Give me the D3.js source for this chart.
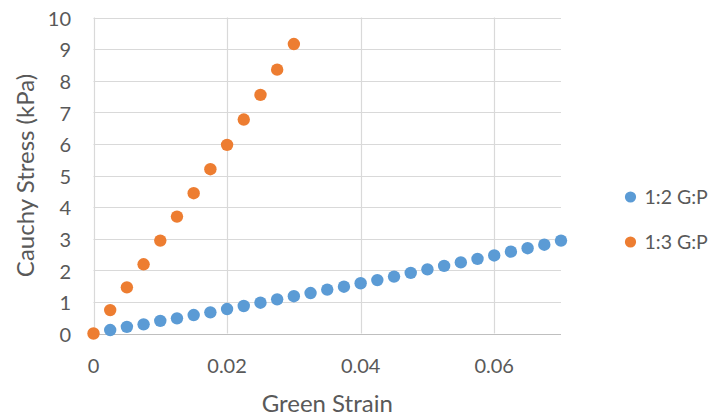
<!DOCTYPE html>
<html>
<head>
<meta charset="utf-8">
<script src="https://cdn.jsdelivr.net/npm/d3@7"></script>
<style>
  html, body { margin: 0; padding: 0; background: #fff; }
  svg { display: block; font-family: Lato, "Open Sans", sans-serif; }
</style>
</head>
<body>
<svg id="chart" width="720" height="420"></svg>
<script>
const strain12 = [0.0025,0.005,0.0075,0.01,0.0125,0.015,0.0175,0.02,0.0225,0.025,0.0275,0.03,0.0325,0.035,0.0375,0.04,0.0425,0.045,0.0475,0.05,0.0525,0.055,0.0575,0.06,0.0625,0.065,0.0675,0.07];
const stress12 = [0.11,0.21,0.29,0.40,0.48,0.585,0.67,0.775,0.87,0.975,1.08,1.18,1.28,1.39,1.48,1.59,1.69,1.80,1.92,2.03,2.14,2.25,2.36,2.47,2.59,2.70,2.81,2.94];
const strain13 = [0,0.0025,0.005,0.0075,0.01,0.0125,0.015,0.0175,0.02,0.0225,0.025,0.0275,0.03];
const stress13 = [0,0.74,1.46,2.19,2.94,3.70,4.44,5.20,5.97,6.77,7.55,8.35,9.16];
const xTicks = [0,0.02,0.04,0.06];
const xTickLabels = ["0","0.02","0.04","0.06"];
const yTicks = [0,1,2,3,4,5,6,7,8,9,10];
const seriesNames = ["1:2 G:P","1:3 G:P"];
const seriesColors = ["#5B9BD5","#ED7D31"];

const svg = d3.select("#chart");
const m = {left: 93.5, right: 561, top: 17.5, bottom: 333.5};
const x = d3.scaleLinear().domain([0,0.07]).range([m.left, m.right]);
const y = d3.scaleLinear().domain([0,10]).range([m.bottom, m.top]);
const textColor = "#595959";
const gridColor = "#D9D9D9";

// gridlines
svg.append("g").selectAll("line").data(yTicks.filter(d => d > 0)).join("line")
  .attr("x1", m.left).attr("x2", m.right)
  .attr("y1", d => Math.round(y(d)) + 0.5).attr("y2", d => Math.round(y(d)) + 0.5)
  .attr("stroke", gridColor).attr("stroke-width", 1.2);
svg.append("g").selectAll("line").data(xTicks).join("line")
  .attr("x1", d => Math.round(x(d)) + 0.5).attr("x2", d => Math.round(x(d)) + 0.5)
  .attr("y1", m.top).attr("y2", m.bottom)
  .attr("stroke", gridColor).attr("stroke-width", 1.2);
// x axis line
svg.append("line").attr("x1", m.left).attr("x2", m.right)
  .attr("y1", Math.round(y(0)) + 0.5).attr("y2", Math.round(y(0)) + 0.5)
  .attr("stroke", "#BFBFBF").attr("stroke-width", 1.2);

// tick labels
svg.append("g").selectAll("text").data(yTicks).join("text")
  .attr("x", 71).attr("y", d => y(d) + 1)
  .attr("dy", "0.36em").attr("text-anchor", "end")
  .attr("fill", textColor).attr("font-size", 20)
  .text(d => d);
svg.append("g").selectAll("text").data(xTicks).join("text")
  .attr("x", d => x(d)).attr("y", 366)
  .attr("dy", "0.36em").attr("text-anchor", "middle")
  .attr("fill", textColor).attr("font-size", 20)
  .text((d, i) => xTickLabels[i]);

// axis titles
svg.append("text").attr("x", (m.left + m.right) / 2).attr("y", 403.5)
  .attr("dy", "0.36em").attr("text-anchor", "middle")
  .attr("fill", textColor).attr("font-size", 24).text("Green Strain");
svg.append("text").attr("transform", `translate(25,${(m.top + m.bottom) / 2}) rotate(-90)`)
  .attr("dy", "0.36em").attr("text-anchor", "middle")
  .attr("fill", textColor).attr("font-size", 24).text("Cauchy Stress (kPa)");

// points
const data12 = strain12.map((s, i) => [s, stress12[i]]);
const data13 = strain13.map((s, i) => [s, stress13[i]]);
svg.append("g").selectAll("circle").data(data12).join("circle")
  .attr("cx", d => x(d[0])).attr("cy", d => y(d[1])).attr("r", 6.2)
  .attr("fill", seriesColors[0]);
svg.append("g").selectAll("circle").data(data13).join("circle")
  .attr("cx", d => x(d[0])).attr("cy", d => y(d[1])).attr("r", 6.2)
  .attr("fill", seriesColors[1]);

// legend
const legY = [197, 242];
const leg = svg.append("g").selectAll("g").data(seriesNames).join("g")
  .attr("transform", (d, i) => `translate(630.5,${legY[i]})`);
leg.append("circle").attr("r", 5.6).attr("fill", (d, i) => seriesColors[i]);
leg.append("text").attr("x", 14).attr("dy", "0.36em")
  .attr("fill", textColor).attr("font-size", 19.5).text(d => d);
</script>
</body>
</html>
